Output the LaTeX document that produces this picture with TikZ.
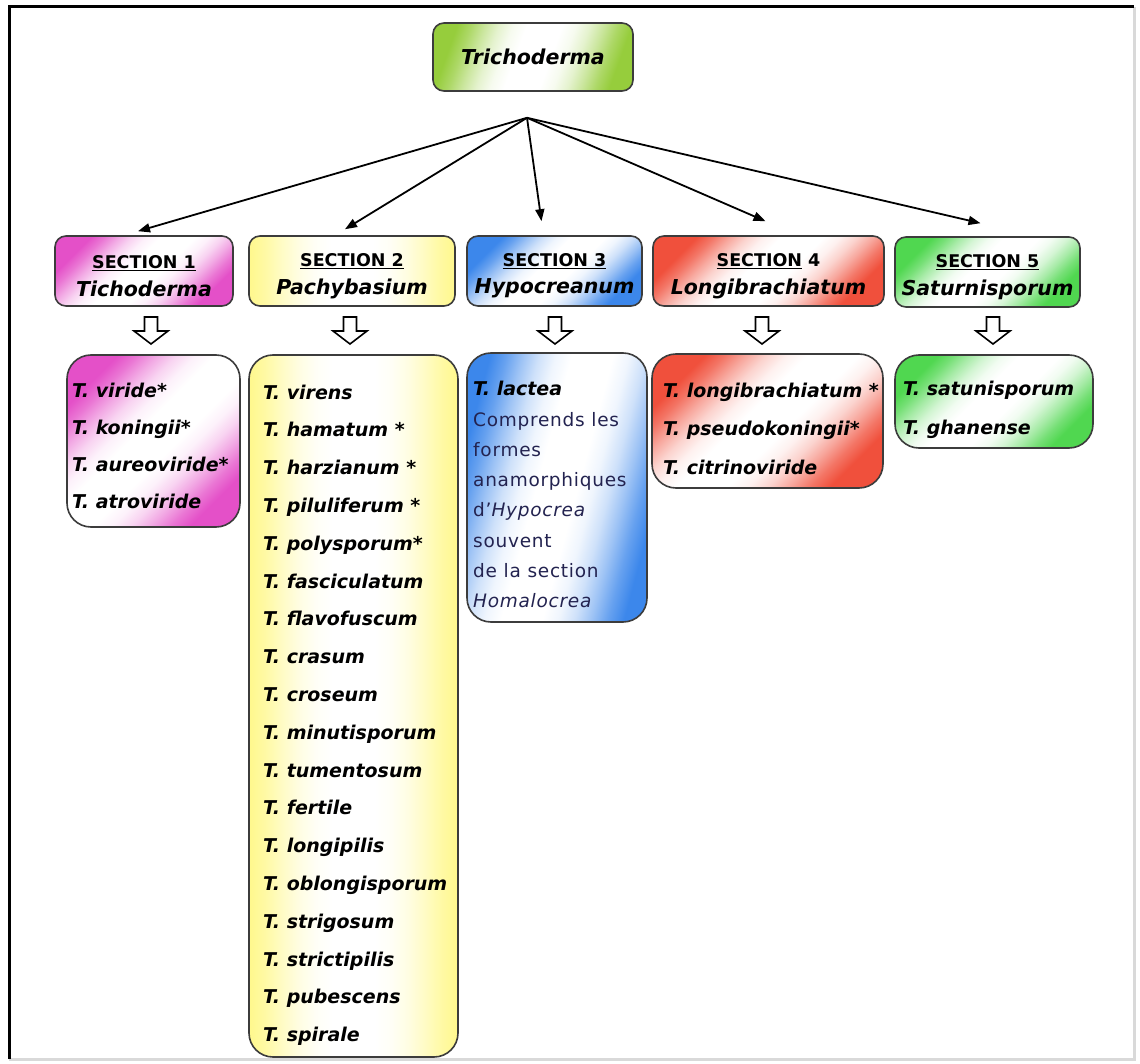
\documentclass[tikz,border=0pt]{standalone}
\usepackage{fontspec}
\setmainfont{DejaVu Sans}
\usetikzlibrary{calc,arrows.meta}
\definecolor{trgreen}{RGB}{150,205,60}
\definecolor{pinkc}{RGB}{228,80,200}
\definecolor{yellowc}{RGB}{255,248,140}
\definecolor{bluec}{RGB}{60,135,235}
\definecolor{redc}{RGB}{240,80,60}
\definecolor{greenc}{RGB}{80,215,80}
\definecolor{navy}{RGB}{35,35,80}
\definecolor{edge}{RGB}{60,60,60}
\newcommand\mysecfont{\fontsize{17.5}{20}\selectfont\bfseries}
\newcommand\mynamefont{\fontsize{20.5}{24}\selectfont\bfseries\itshape}
\newcommand\mkfade[2]{\pgfdeclareverticalshading{#1}{100bp}{color(0bp)=(#2); color(25bp)=(#2);
  color(29bp)=(#2!78); color(33bp)=(#2!50); color(37bp)=(#2!25); color(41bp)=(#2!8); color(45bp)=(white);
  color(55bp)=(white); color(59bp)=(#2!8); color(63bp)=(#2!25); color(67bp)=(#2!50); color(71bp)=(#2!78);
  color(75bp)=(#2); color(100bp)=(#2)}}
\mkfade{fadegreenroot}{trgreen}
\mkfade{fadepink}{pinkc}
\mkfade{fadeyellow}{yellowc}
\mkfade{fadeblue}{bluec}
\mkfade{fadered}{redc}
\mkfade{fadegreen}{greenc}
\begin{document}
\begin{tikzpicture}[x=1pt,y=-1pt,
  secbox/.style={draw=edge, line width=1.6pt, rounded corners=11pt, inner sep=0pt, align=center},
  listbox/.style={draw=edge, line width=1.6pt, rounded corners=24pt, inner sep=0pt},
  shadeit/.style n args={2}{shade, shading=#1, shading angle=#2},
  item/.style={font=\fontsize{19}{20}\selectfont\bfseries\itshape, inner sep=0pt, anchor=base west},
  note/.style={font=\fontsize{18.5}{20}\selectfont\addfontfeature{LetterSpace=4}, text=navy, inner sep=0pt, anchor=base west},
  conn/.style={line width=1.8pt, -{Triangle[length=12pt,width=9pt]}},
  hollow/.pic={\draw[line width=1.6pt, fill=white, line join=miter]
     (-6.5,-14) -- (6.5,-14) -- (6.5,0) -- (17,0) -- (0,13) -- (-17,0) -- (-6.5,0) -- cycle;}
]
\useasboundingbox (0,0) rectangle (1140,1064);
\fill[white] (0,0) rectangle (1140,1064);
% frame
\draw[black!15, line width=3pt] (1134,7) -- (1134,1059) -- (9,1059);
\draw[black, line width=3pt] (9,1059) -- (9,7) -- (1134,7);

% root
\node[secbox, shadeit={fadegreenroot}{70}, minimum width=200pt, minimum height=68pt,
      font=\mynamefont] (root) at (533,57) {Trichoderma};
\coordinate (hub) at ($(root.south)+(-6,26)$);

% sections
\node[secbox, shadeit={fadepink}{45}, minimum width=178pt, minimum height=70pt] (s1) at (144,271)
  {{\mysecfont\rule{0pt}{23pt}\underline{SECTION 1}}\\[9pt]{\mynamefont Tichoderma}};
\node[secbox, shadeit={fadeyellow}{90}, minimum width=206pt, minimum height=70pt] (s2) at (352,271)
  {{\mysecfont\rule{0pt}{23pt}\underline{SECTION 2}}\\[9pt]{\mynamefont Pachybasium}};
\node[secbox, shadeit={fadeblue}{45}, minimum width=175pt, minimum height=70pt] (s3) at (554.5,271)
  {{\mysecfont\rule{0pt}{23pt}\underline{SECTION 3}}\\[9pt]{\mynamefont Hypocreanum}};
\node[secbox, shadeit={fadered}{45}, minimum width=231pt, minimum height=70pt] (s4) at (768.5,271)
  {{\mysecfont\rule{0pt}{23pt}\underline{SECTION} 4}\\[9pt]{\mynamefont Longibrachiatum}};
\node[secbox, shadeit={fadegreen}{45}, minimum width=185pt, minimum height=70pt] (s5) at (987.5,272)
  {{\mysecfont\rule{0pt}{23pt}\underline{SECTION 5}}\\[9pt]{\mynamefont Saturnisporum}};

% connectors
\draw[conn] (hub) -- ($(s1.north)+(-6,-4)$);
\draw[conn] (hub) -- ($(s2.north)+(-7,-6)$);
\draw[conn] (hub) -- ($(s3.north)+(-13,-14)$);
\draw[conn] (hub) -- ($(s4.north)+(-3,-14)$);
\draw[conn] (hub) -- ($(s5.north)+(-7,-13)$);

% list boxes
\node[listbox, shadeit={fadepink}{45}, minimum width=173pt, minimum height=172pt] (l1) at (153.5,441) {};
\node[listbox, shadeit={fadeyellow}{90}, minimum width=209pt, minimum height=702pt] (l2) at (353.5,706) {};
\node[listbox, shadeit={fadeblue}{75}, minimum width=180pt, minimum height=269pt] (l3) at (557,487.5) {};
\node[listbox, shadeit={fadered}{45}, minimum width=231pt, minimum height=134pt] (l4) at (767.5,421) {};
\node[listbox, shadeit={fadegreen}{45}, minimum width=198pt, minimum height=93pt] (l5) at (994,401.5) {};

% hollow arrows
\pic at (151,331) {hollow};
\pic at (350,331) {hollow};
\pic at (555,331) {hollow};
\pic at (762,331) {hollow};
\pic at (993,331) {hollow};

% list 1
\foreach [count=\i] \t in {T. viride*, T. koningii*, T. aureoviride*, T. atroviride}
  \node[item] (a\i) at (72,{397+(\i-1)*37.3}) {\t};
% list 2
\foreach [count=\i] \t in {T. virens, T. hamatum *, T. harzianum *, T. piluliferum *, T. polysporum*,
  T. fasciculatum, T. flavofuscum, T. crasum, T. croseum, T. minutisporum, T. tumentosum,
  T. fertile, T. longipilis, T. oblongisporum, T. strigosum, T. strictipilis, T. pubescens, T. spirale}
  \node[item] (b\i) at (263,{399+(\i-1)*37.8}) {\t};
% list 3
\node[item] (c0) at (473,395) {T. lactea};
\foreach [count=\i] \t in {Comprends les, formes, anamorphiques, d’\textit{Hypocrea}, souvent,
  de la section, \textit{Homalocrea}}
  \node[note] (c\i) at (473,{426+(\i-1)*30.3}) {\t};
% list 4
\foreach [count=\i] \t in {T. longibrachiatum *, T. pseudokoningii*, T. citrinoviride}
  \node[item] (d\i) at (663,{397+(\i-1)*38.5}) {\t};
% list 5
\foreach [count=\i] \t in {T. satunisporum, T. ghanense}
  \node[item] (e\i) at (903,{395+(\i-1)*39}) {\t};
\end{tikzpicture}
\end{document}
